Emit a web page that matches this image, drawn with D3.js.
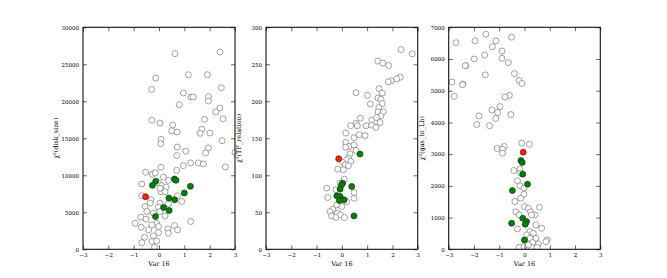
<!DOCTYPE html>
<html>
<head>
<meta charset="utf-8">
<script src="https://cdn.jsdelivr.net/npm/d3@7"></script>
<style>
  body { margin: 0; background: #fff; }
  svg text { font-family: 'DejaVu Serif', 'Liberation Serif', serif; fill: #000; }
</style>
</head>
<body>
<div id="root"></div>
<script>
// Panel 1: chi2(disk_size) vs Var 16
const diskOpen = [
  [0.63, 26430], [2.41, 26660], [-0.13, 23140], [1.16, 23590], [1.91, 23590],
  [-0.29, 21620], [2.46, 21830], [0.96, 21120], [1.26, 20580], [1.35, 20580],
  [1.95, 20620], [1.95, 20040], [0.8, 19540], [2.4, 19090], [2.24, 18550],
  [2.53, 17640], [-0.28, 17430], [0.04, 17060], [0.54, 16790], [1.8, 17560],
  [0.5, 16020], [0.71, 15850], [1.69, 16210], [1.62, 15670], [2.01, 15710],
  [0.08, 14860], [0.07, 14270], [2.49, 14670], [0.72, 13820], [1.95, 13690],
  [1.06, 13260], [0.7, 12670], [1.84, 13030], [3.0, 13100],
  [1.25, 11670], [1.55, 11670], [1.75, 11540], [2.62, 11130], [0.96, 11310],
  [0.7, 10680], [0.08, 11090], [-0.53, 10410], [-0.26, 10140], [-0.15, 10320],
  [-0.68, 8820], [-0.02, 8960], [0.11, 8600], [0.28, 8420], [0.37, 9320],
  [0.18, 9770], [0.08, 7780], [0.24, 7780], [0.04, 8240], [-0.68, 7240],
  [-0.31, 6700], [0.04, 6240], [0.73, 7240], [0.9, 6470], [-0.55, 5790],
  [-0.35, 6240], [-0.48, 5110], [-0.02, 5700], [0.04, 5110], [0.37, 6150],
  [-0.22, 4890], [0.24, 4520], [-0.72, 4340], [-0.51, 4070], [-0.94, 3530],
  [-0.09, 3530], [-0.7, 2990], [-0.41, 2620], [-0.02, 3080], [-0.28, 3300],
  [1.25, 3760], [0.61, 3210], [0.35, 2760], [0.73, 2620], [0.37, 2170],
  [-0.02, 2260], [-0.22, 1810], [-0.57, 1630], [-0.68, 900], [-0.28, 1040],
  [-0.09, 1130], [-0.18, 270]
];
const diskGreen = [
  [-0.13, 9190], [-0.26, 8640], [0.61, 9500], [0.67, 9320], [1.24, 8510],
  [1.0, 7600], [0.39, 6920], [0.62, 6700], [0.18, 5660], [0.4, 5250], [-0.14, 4430]
];
const diskRed = [[-0.53, 7100]];

// Panel 2: chi2(TF_relation) vs Var 16
const tfOpen = [
  [2.34, 269.9], [2.79, 264.1], [1.42, 254.3], [1.62, 251.6], [1.85, 248.5],
  [2.31, 232.6], [2.17, 230.4], [1.95, 227.7], [1.84, 226.3], [0.56, 211.6],
  [1.01, 208], [1.47, 217], [1.6, 211.2], [1.43, 204.5], [1.55, 202.7],
  [1.13, 196.4], [1.6, 196.9], [1.46, 191.5], [1.43, 185.7], [1.64, 185.7],
  [1.54, 180.4], [0.73, 177.2], [1.37, 178.1], [1.18, 174.6], [0.56, 170.1],
  [1.51, 171.4], [0.35, 167], [0.61, 167], [0.96, 167], [1.18, 167.9],
  [1.35, 164.7], [0.16, 157.1], [0.69, 154.9], [0.92, 153.6], [0.48, 150.9],
  [0.16, 144.5], [0.28, 139], [0.48, 140.9], [0.15, 138], [0.56, 133.6],
  [0.32, 129.1], [0.26, 123.3], [0.19, 121], [0.36, 118.7], [0.03, 117.4],
  [0.13, 114.2], [0.26, 112.9], [-0.16, 108.4], [0.06, 107.4], [0.1, 94.8],
  [-0.07, 89.4], [-0.6, 82.6], [-0.23, 80.4], [-0.56, 70], [0.48, 76.7],
  [0.48, 69], [0.19, 64.6], [-0.2, 60], [0.0, 57.8], [-0.36, 54.2],
  [-0.47, 51], [-0.18, 48.8], [-0.4, 45.1], [-0.23, 43.3], [-0.05, 46.5],
  [0.1, 42.9]
];
const tfGreen = [
  [0.72, 128.7], [0.03, 89.4], [-0.01, 87.1], [-0.07, 81.3], [0.39, 84.9],
  [-0.2, 72.2], [-0.07, 71.3], [0.09, 66.8], [-0.1, 65.9], [0.48, 45.1]
];
const tfRed = [[-0.125, 122.3]];

// Panel 3: chi2(gas_to_Lb) vs Var 16
const gasOpen = [
  [-1.53, 6781], [-0.51, 6688], [-1.96, 6573], [-1.13, 6573], [-1.27, 6385],
  [-0.89, 6250], [-1.58, 6125], [-1.99, 6000], [-0.89, 6021], [-0.64, 5885],
  [-2.32, 5792], [-0.4, 5542], [-1.55, 5500], [-0.21, 5323], [-0.1, 5229],
  [-2.44, 5208], [-0.6, 4854], [-0.77, 4802], [-0.97, 4500], [-1.29, 4396],
  [-1.06, 4313], [-1.8, 4208], [-0.54, 4250], [-1.14, 4125], [-1.89, 3938],
  [-1.38, 3896], [-2.71, 6515], [-2.87, 5275], [-2.78, 4824], [-2.45, 5190],
  [-2.34, 5789], [-1.08, 3179], [-0.8, 3242], [-0.87, 3158], [-0.87, 3032],
  [-0.11, 3347], [0.19, 3316], [-0.42, 2484], [-0.18, 2526], [-0.15, 2400],
  [-0.28, 2158], [-0.18, 2000], [-0.02, 1926], [-0.02, 1737], [-0.15, 1611],
  [-0.38, 1505], [0.0, 1347], [0.15, 1295], [0.59, 1326], [0.24, 1179],
  [-0.34, 1179], [0.41, 1084], [0.28, 1084], [-0.21, 1084], [0.45, 768],
  [0.68, 663], [-0.28, 642], [0.22, 558], [0.35, 505], [0.08, 453],
  [0.45, 347], [0.22, 347], [0.9, 295], [0.85, 242], [0.32, 211],
  [0.55, 168], [-0.21, 63], [-0.02, 84], [0.28, 63], [0.5, 63], [0.15, 137]
];
const gasGreen = [
  [-0.14, 2800], [-0.09, 2737], [-0.07, 2368], [0.12, 2053], [-0.48, 1853],
  [-0.07, 979], [0.08, 874], [0.03, 789], [-0.51, 821], [0.0, 295]
];
const gasRed = [[-0.05, 3063]];

const xTicks = [-3, -2, -1, 0, 1, 2, 3];
const xLabel = 'Var 16';

const W = 667, H = 278;
const svg = d3.select('#root').append('svg').attr('width', W).attr('height', H);

function drawPanel(left, right, yMax, yTicks, yLabel, open, green, red, id) {
  const top = 27.3, bottom = 249.3;
  const x = d3.scaleLinear().domain([-3, 3]).range([left, right]);
  const y = d3.scaleLinear().domain([0, yMax]).range([bottom, top]);

  const clip = svg.append('clipPath').attr('id', 'clip' + id);
  clip.append('rect').attr('x', left).attr('y', top)
    .attr('width', right - left).attr('height', bottom - top);

  const g = svg.append('g').attr('clip-path', `url(#clip${id})`);

  const marks = [
    { data: open, fill: '#fff', stroke: '#7a7a7a' },
    { data: green, fill: '#008000', stroke: '#1a3a1a' },
    { data: red, fill: '#ff2000', stroke: '#552010' }
  ];
  marks.forEach((m) => {
    g.selectAll(null)
      .data(m.data)
      .enter()
      .append('circle')
      .attr('cx', (d) => x(d[0]))
      .attr('cy', (d) => y(d[1]))
      .attr('r', 3.0)
      .style('fill', m.fill)
      .style('stroke', m.stroke)
      .style('stroke-width', 0.7);
  });

  // ticks on all four sides, pointing in
  const tick = 4;
  const axes = [
    d3.axisBottom(x).tickValues(xTicks).tickSize(-tick).tickPadding(4).tickFormat(d3.format('d')),
    d3.axisTop(x).tickValues(xTicks).tickSize(-tick).tickFormat(''),
    d3.axisLeft(y).tickValues(yTicks).tickSize(-tick).tickPadding(4).tickFormat(d3.format('d')),
    d3.axisRight(y).tickValues(yTicks).tickSize(-tick).tickFormat('')
  ];
  const pos = [`translate(0,${bottom})`, `translate(0,${top})`,
    `translate(${left},0)`, `translate(${right},0)`];
  axes.forEach((a, i) => {
    const ax = svg.append('g').attr('transform', pos[i]).call(a);
    ax.select('.domain').remove();
    ax.selectAll('line').style('stroke', '#000').style('stroke-width', 0.6);
    ax.selectAll('text').style('font-size', '5.5px')
      .style('font-family', "'DejaVu Serif', serif");
  });

  svg.append('rect')
    .attr('x', left).attr('y', top)
    .attr('width', right - left).attr('height', bottom - top)
    .style('fill', 'none').style('stroke', '#111').style('stroke-width', 1.1);

  svg.append('text')
    .attr('x', (left + right) / 2).attr('y', 266)
    .attr('text-anchor', 'middle')
    .style('font-size', '6.5px')
    .text(xLabel);

  svg.append('text')
    .attr('transform', `translate(${left - 25},${(top + bottom) / 2}) rotate(-90)`)
    .attr('text-anchor', 'middle')
    .style('font-size', '6.5px')
    .text(yLabel);
}

drawPanel(83, 235, 30000, d3.range(0, 30001, 5000), 'χ²(disk_size)', diskOpen, diskGreen, diskRed, 1);
drawPanel(266, 417.7, 300, d3.range(0, 301, 50), 'χ²(TF_relation)', tfOpen, tfGreen, tfRed, 2);
drawPanel(448.7, 600.3, 7000, d3.range(0, 7001, 1000), 'χ²(gas_to_Lb)', gasOpen, gasGreen, gasRed, 3);
</script>
</body>
</html>
